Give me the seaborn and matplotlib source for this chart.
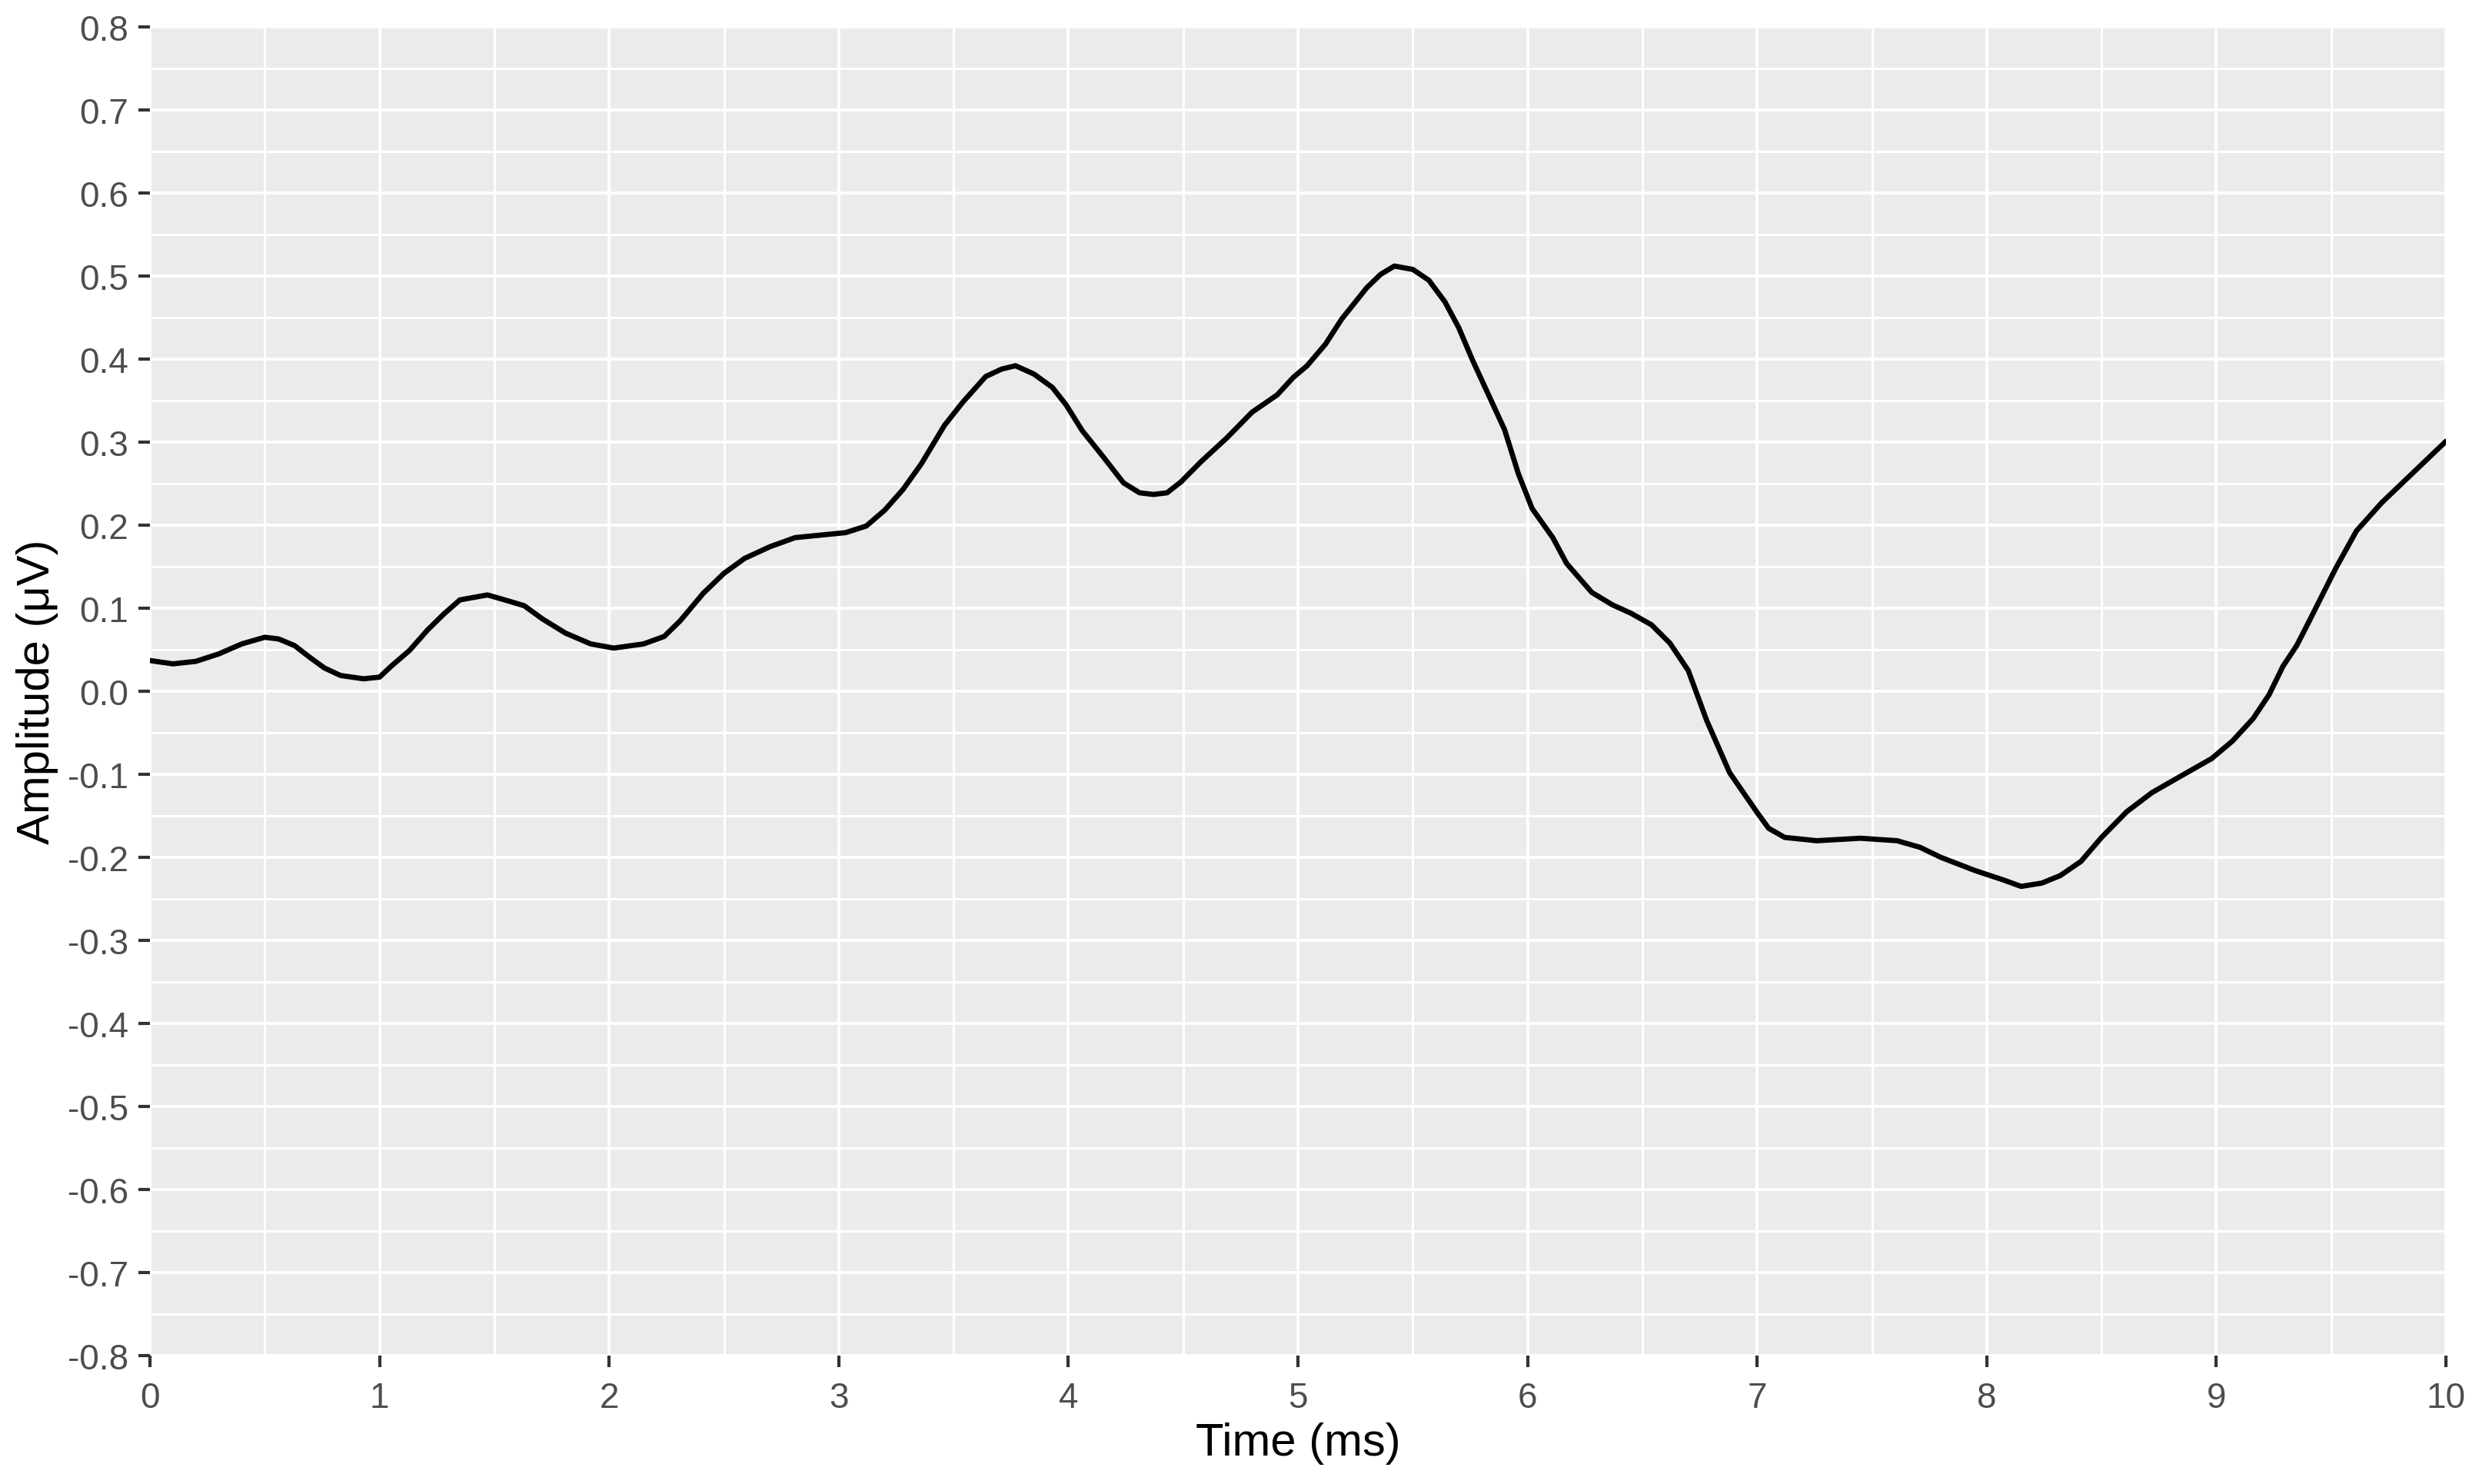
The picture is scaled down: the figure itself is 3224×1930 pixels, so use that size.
import numpy as np
import pandas as pd
import matplotlib
matplotlib.use("Agg")
import matplotlib.pyplot as plt
import seaborn as sns
from matplotlib.ticker import MultipleLocator

# waveform (time in ms, amplitude in microvolts)
time_ms = [
    0.00, 0.10, 0.20, 0.30, 0.40, 0.50, 0.56, 0.63, 0.70, 0.76, 0.83, 0.93,
    1.00, 1.05, 1.13, 1.21, 1.28, 1.35, 1.47, 1.57, 1.63, 1.71, 1.81, 1.92,
    2.02, 2.15, 2.24, 2.31, 2.41, 2.50, 2.59, 2.70, 2.81, 2.92, 3.03, 3.12,
    3.20, 3.28, 3.36, 3.46, 3.54, 3.64, 3.71, 3.77, 3.85, 3.93, 3.99, 4.06,
    4.15, 4.24, 4.31, 4.37, 4.43, 4.49, 4.58, 4.69, 4.80, 4.91, 4.98, 5.04,
    5.12, 5.19, 5.30, 5.36, 5.42, 5.50, 5.57, 5.64, 5.70, 5.76, 5.83, 5.90,
    5.96, 6.02, 6.11, 6.17, 6.28, 6.37, 6.45, 6.54, 6.62, 6.70, 6.78, 6.88,
    7.00, 7.05, 7.12, 7.26, 7.45, 7.61, 7.71, 7.80, 7.95, 8.07, 8.15, 8.24,
    8.32, 8.41, 8.50, 8.61, 8.72, 8.84, 8.98, 9.07, 9.16, 9.23, 9.29, 9.35,
    9.40, 9.46, 9.52, 9.61, 9.72, 9.86, 10.00,
]
amplitude_uv = [
    0.037, 0.033, 0.036, 0.045, 0.057, 0.065, 0.063, 0.055, 0.040, 0.028, 0.019, 0.015,
    0.017, 0.030, 0.049, 0.074, 0.093, 0.110, 0.116, 0.108, 0.103, 0.087, 0.070, 0.057,
    0.052, 0.057, 0.066, 0.085, 0.118, 0.142, 0.160, 0.174, 0.185, 0.188, 0.191, 0.199,
    0.218, 0.243, 0.274, 0.320, 0.348, 0.379, 0.388, 0.392, 0.382, 0.366, 0.345, 0.314,
    0.283, 0.251, 0.239, 0.237, 0.239, 0.252, 0.277, 0.305, 0.336, 0.357, 0.378, 0.392,
    0.418, 0.448, 0.486, 0.502, 0.512, 0.508, 0.495, 0.469, 0.438, 0.399, 0.357, 0.315,
    0.262, 0.220, 0.185, 0.154, 0.119, 0.104, 0.094, 0.080, 0.058, 0.025, -0.035, -0.098,
    -0.146, -0.165, -0.176, -0.180, -0.177, -0.180, -0.188, -0.200, -0.216, -0.227, -0.235, -0.231,
    -0.222, -0.205, -0.176, -0.145, -0.122, -0.103, -0.081, -0.060, -0.033, -0.004, 0.030, 0.055,
    0.082, 0.115, 0.148, 0.193, 0.227, 0.264, 0.301,
]

x_ticks = list(range(0, 11))
x_labels = [str(t) for t in x_ticks]
y_ticks = [round(-0.8 + 0.1 * i, 1) for i in range(17)]
y_labels = [f"{v:.1f}".replace("-0.0", "0.0") for v in y_ticks]

df = pd.DataFrame({"time": time_ms, "amp": amplitude_uv})

sns.set_theme(style="darkgrid")
plt.rcParams["font.family"] = ["Liberation Sans", "DejaVu Sans"]

fig = plt.figure(figsize=(32.24, 19.31), dpi=100)
ax = fig.add_axes([195 / 3224, 1 - 1764 / 1931, 2986 / 3224, 1728 / 1931])
ax.set_facecolor("#EBEBEB")

sns.lineplot(data=df, x="time", y="amp", ax=ax, color="black", linewidth=4.9,
             estimator=None, sort=False)

ax.set_xlim(0, 10)
ax.set_ylim(-0.8, 0.8)
ax.set_xticks(x_ticks)
ax.set_xticklabels(x_labels)
ax.set_yticks(y_ticks)
ax.set_yticklabels(y_labels)
ax.xaxis.set_minor_locator(MultipleLocator(0.5))
ax.yaxis.set_minor_locator(MultipleLocator(0.05))

ax.grid(which="major", color="white", linewidth=2.7)
ax.grid(which="minor", color="white", linewidth=2.2)
ax.set_axisbelow(True)

for s in ax.spines.values():
    s.set_visible(False)

# darkgrid hides tick marks; ggplot-style short dark ticks are wanted here
ax.tick_params(which="major", bottom=True, left=True, length=11, width=3.0,
               color="#333333", labelcolor="#4D4D4D", labelsize=33, pad=9)
ax.tick_params(which="minor", bottom=False, left=False, length=0)
ax.tick_params(axis="x", pad=13)

ax.set_xlabel("Time (ms)", fontsize=43, color="black")
ax.set_ylabel("Amplitude (μV)", fontsize=43, color="black")
ax.xaxis.set_label_coords(0.5, -0.05)
ax.yaxis.set_label_coords(-0.040, 0.5)

fig.savefig("out.png", dpi=100, facecolor="white")
